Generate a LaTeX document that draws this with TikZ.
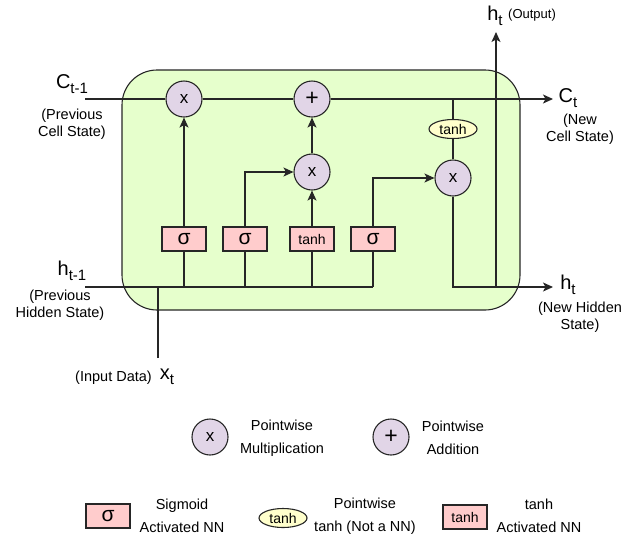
\documentclass[tikz,border=0pt]{standalone}
\usepackage{fontspec}
\setmainfont{Liberation Sans}
\usetikzlibrary{arrows.meta,shapes.geometric}

\definecolor{cellfill}{HTML}{E6FFCC}
\definecolor{opfill}{HTML}{E1D5E7}
\definecolor{nnfill}{HTML}{FFCCCC}
\definecolor{tanhfill}{HTML}{FFFFCC}
\definecolor{linec}{HTML}{262626}

\newcommand*{\symsub}[2]{{\fontsize{20}{20}\selectfont #1}\raisebox{-4.5pt}{\fontsize{15}{15}\selectfont #2}}
\newcommand*{\smalltxt}{\fontsize{14.5}{17}\selectfont}

\begin{document}
\begin{tikzpicture}
[
	x=1pt,y=-1pt,
	cellbox/.style={draw=linec,fill=cellfill,line width=1.1pt,rounded corners=35pt},
	opcirc/.style={circle,draw=linec,fill=opfill,line width=1.1pt,minimum size=36pt,inner sep=0pt,font=\fontsize{17}{17}\selectfont},
	nnbox/.style={rectangle,draw=linec,fill=nnfill,line width=1.1pt,minimum width=44pt,minimum height=24pt,inner sep=0pt},
	tanhell/.style={ellipse,draw=linec,fill=tanhfill,line width=1.1pt,minimum width=48pt,minimum height=19pt,inner sep=0pt,font=\fontsize{14}{14}\selectfont},
	wire/.style={draw=linec,line width=1.1pt},
	arr/.style={wire,-{Stealth[length=10pt,width=9pt,inset=2.5pt]}},
	lbl/.style={align=center,inner sep=0pt,font=\smalltxt}
]

	\useasboundingbox (0,0) rectangle (642,542);

	% cell
	\draw[cellbox] (122,70) rectangle (520,310);

	% operations
	\node[opcirc] (mf) at (184,99) {x};
	\node[opcirc,font=\fontsize{23}{23}\selectfont] (add) at (312,99) {+};
	\node[opcirc] (mi) at (312,172) {x};
	\node[opcirc] (mo) at (453,178) {x};
	\node[tanhell] (tc) at (453,129) {tanh};

	% gates
	\node[nnbox,font=\fontsize{21}{21}\selectfont] (sf) at (184,239) {σ};
	\node[nnbox,font=\fontsize{21}{21}\selectfont] (si) at (245,239) {σ};
	\node[nnbox,font=\fontsize{14}{14}\selectfont] (tg) at (312,239) {tanh};
	\node[nnbox,font=\fontsize{21}{21}\selectfont] (so) at (373,239) {σ};

	% ends of the wires
	\coordinate (cin) at (85,99);
	\coordinate (cout) at (553,99);
	\coordinate (hin) at (85,287);
	\coordinate (hend) at (373,287);
	\coordinate (hout) at (553,287);
	\coordinate (xin) at (158,358);
	\coordinate (xj) at (158,287);
	\coordinate (hj) at (496,287);
	\coordinate (hup) at (496,32);

	% cell state
	\draw[wire] (cin) -- (mf) -- (add);
	\draw[arr] (add) -- (cout);

	% hidden state and input
	\draw[wire] (hin) -- (hend);
	\draw[wire] (xin) -- (xj);
	\foreach \g in {sf,si,tg,so} {
		\draw[wire] (\g) -- (\g |- hin);
	}

	% gates to operations
	\draw[arr] (sf) -- (mf);
	\draw[arr] (si.north) |- (mi.west);
	\draw[arr] (tg) -- (mi);
	\draw[arr] (mi) -- (add);
	\draw[arr] (so.north) |- (mo.west);
	\draw[wire] (mo) -- (tc);
	\draw[wire] (tc) -- (tc |- cin);

	% outputs
	\draw[arr] (mo.south) |- (hout);
	\draw[arr] (hj) -- (hup);

	% labels
	\node (lcin) at (72,84) {\symsub{C}{t-1}};
	\node[lbl] (lcind) at (72,124) {(Previous\\Cell State)};
	\node (lhin) at (72,271) {\symsub{h}{t-1}};
	\node[lbl] (lhind) at (60,305) {(Previous\\Hidden State)};
	\node (lcout) at (568,98) {\symsub{C}{t}};
	\node[lbl] (lcoutd) at (580,129) {(New\\Cell State)};
	\node (lhout) at (568,285) {\symsub{h}{t}};
	\node[lbl] (lhoutd) at (580,317) {(New Hidden\\State)};
	\node (lhup) at (495,16) {\symsub{h}{t}};
	\node[lbl,anchor=west,font=\fontsize{13}{13}\selectfont] (lhupd) at (508,15) {(Output)};
	\node (lxin) at (167,377) {\symsub{x}{t}};
	\node[lbl,anchor=east] (lxind) at (152,378) {(Input Data)};

	% legend
	\node[opcirc] (kmul) at (210,437) {x};
	\node[lbl] (kmult) at (282,438) {Pointwise\\[6pt]Multiplication};
	\node[opcirc,font=\fontsize{23}{23}\selectfont] (kadd) at (391,437) {+};
	\node[lbl] (kaddt) at (453,438) {Pointwise\\[6pt]Addition};
	\node[nnbox,font=\fontsize{21}{21}\selectfont] (ksig) at (108,516) {σ};
	\node[lbl] (ksigt) at (182,516) {Sigmoid\\[6pt]Activated NN};
	\node[tanhell] (ktc) at (283,518) {tanh};
	\node[lbl] (ktct) at (365,516) {Pointwise\\[6pt]tanh (Not a NN)};
	\node[nnbox,font=\fontsize{14}{14}\selectfont] (ktg) at (465,517) {tanh};
	\node[lbl] (ktgt) at (539,516) {tanh\\[6pt]Activated NN};

\end{tikzpicture}
\end{document}
